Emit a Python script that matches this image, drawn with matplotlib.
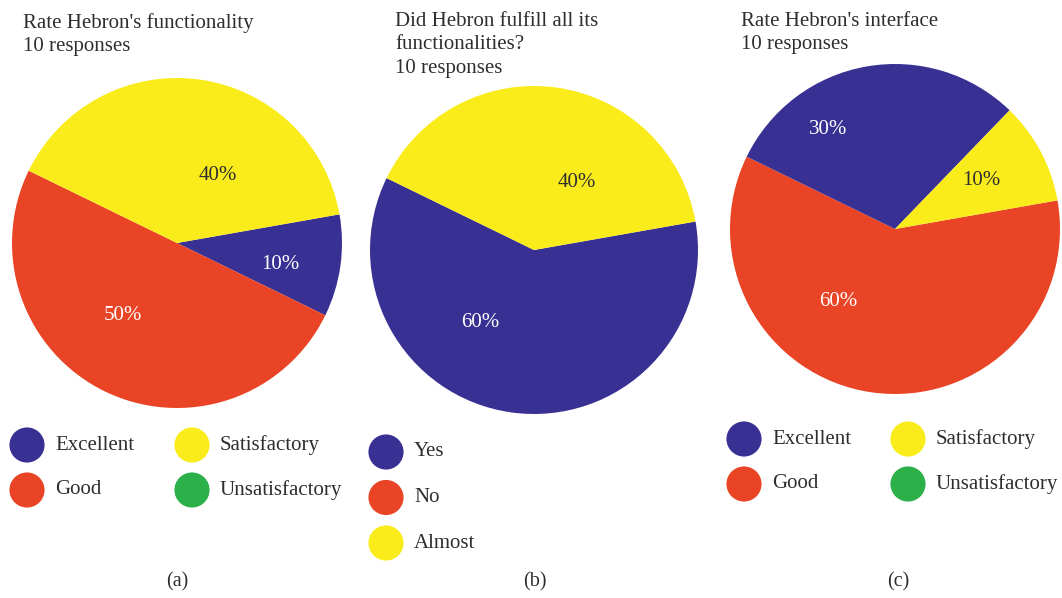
import numpy as np
import matplotlib
matplotlib.use("Agg")
import matplotlib.pyplot as plt

# ---------------- data ----------------
titles = ["Rate Hebron's functionality\n10 responses",
          "Did Hebron fulfill all its\nfunctionalities?\n10 responses",
          "Rate Hebron's interface\n10 responses"]
captions = ["(a)", "(b)", "(c)"]

categories_a = ["Excellent", "Good", "Satisfactory", "Unsatisfactory"]
values_a = [1, 5, 4, 0]

categories_b = ["Yes", "No", "Almost"]
values_b = [6, 0, 4]

categories_c = ["Excellent", "Good", "Satisfactory", "Unsatisfactory"]
values_c = [3, 6, 1, 0]

# ---------------- style / layout ----------------
BLUE, RED, YELLOW, GREEN = "#393094", "#EA4426", "#FAEC1B", "#2BB04A"
colors_a = [BLUE, RED, YELLOW, GREEN]
colors_b = [BLUE, RED, YELLOW]
colors_c = [BLUE, RED, YELLOW, GREEN]
TXT = "#2e2e2e"
FONT = "Liberation Serif"

W, H = 1062, 598
fig = plt.figure(figsize=(W / 100, H / 100), dpi=100)
ax = fig.add_axes([0, 0, 1, 1])

def Y(y):  # pixel-from-top -> data
    return H - y

panels = [
    dict(cats=categories_a, vals=values_a, cols=colors_a, order=[0, 1, 2, 3],
         center=(177, 243), r=165, title_xy=(23, 13),
         labels={"Excellent": (-12, 0.64), "Good": (-127, 0.55), "Satisfactory": (59, 0.48)},
         legend=dict(x0=27, y0=445, dx=165, dy=45, ncol=2), cap_x=177),
    dict(cats=categories_b, vals=values_b, cols=colors_b, order=[0, 1, 2],
         center=(534, 250), r=164, title_xy=(395, 12),
         labels={"Yes": (-126.5, 0.55), "Almost": (57.7, 0.49)},
         legend=dict(x0=386, y0=452, dx=0, dy=45.5, ncol=1), cap_x=535),
    dict(cats=categories_c, vals=values_c, cols=colors_c, order=[1, 0, 2, 3],
         center=(895, 229), r=165, title_xy=(741, 12),
         labels={"Excellent": (124, 0.73), "Satisfactory": (29.4, 0.6), "Good": (-128, 0.56)},
         legend=dict(x0=744, y0=439, dx=164, dy=45, ncol=2), cap_x=898),
]

for p, t, c in zip(panels, titles, captions):
    cats, vals, cols = p["cats"], p["vals"], p["cols"]
    idx = [i for i in p["order"] if vals[i] > 0]
    cx, cy = p["center"]
    ax.pie([vals[i] for i in idx], colors=[cols[i] for i in idx],
           startangle=10, counterclock=False, center=(cx, Y(cy)), radius=p["r"],
           wedgeprops=dict(linewidth=0))
    total = sum(vals)
    for i in idx:
        ang, d = p["labels"][cats[i]]
        tx = cx + d * p["r"] * np.cos(np.radians(ang))
        ty = Y(cy) + d * p["r"] * np.sin(np.radians(ang))
        col = TXT if cols[i] == YELLOW else "white"
        ax.text(tx, ty, f"{round(100 * vals[i] / total)}%", ha="center", va="center",
                fontsize=15, color=col, family=FONT)
    # legend
    lg = p["legend"]
    for k, cat in enumerate(cats):
        if lg["ncol"] == 2:
            col_i, row_i = k // 2, k % 2
        else:
            col_i, row_i = 0, k
        lx = lg["x0"] + col_i * lg["dx"]
        ly = lg["y0"] + row_i * lg["dy"]
        ax.scatter([lx], [Y(ly)], s=640, color=cols[k], edgecolors="none", zorder=3)
        ax.text(lx + 28, Y(ly), cat, ha="left", va="center", fontsize=15,
                color=TXT, family=FONT)
    # title and caption
    tx, ty = p["title_xy"]
    ax.text(tx, Y(ty), t, ha="left", va="top", fontsize=15, color=TXT,
            family=FONT, linespacing=1.32)
    ax.text(p["cap_x"], Y(582), c, ha="center", va="center", fontsize=14.5,
            color=TXT, family=FONT)

ax.set_xlim(0, W)
ax.set_ylim(0, H)
ax.set_aspect("auto")
ax.axis("off")
fig.savefig("out.png", dpi=100, facecolor="white")
